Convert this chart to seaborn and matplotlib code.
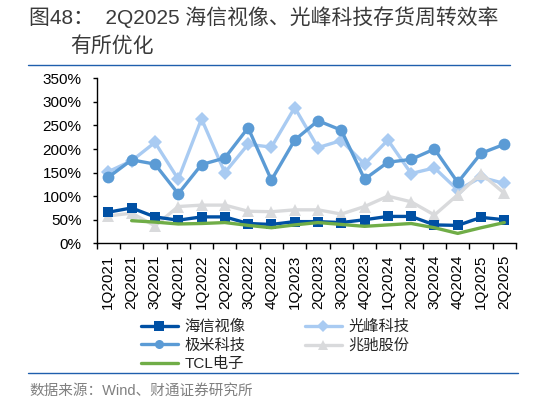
import numpy as np
import pandas as pd
import matplotlib
matplotlib.use("Agg")
import matplotlib.pyplot as plt
import seaborn as sns
from matplotlib.ticker import FixedLocator, PercentFormatter
from matplotlib.lines import Line2D

quarters = ["1Q2021", "2Q2021", "3Q2021", "4Q2021", "1Q2022", "2Q2022", "3Q2022", "4Q2022",
            "1Q2023", "2Q2023", "3Q2023", "4Q2023", "1Q2024", "2Q2024", "3Q2024", "4Q2024",
            "1Q2025", "2Q2025"]
hisense = [66, 75, 56, 49, 56, 56, 42, 40, 46, 46, 44, 50, 57, 57, 39, 38, 55, 50]
xgimi = [140, 177, 168, 105, 167, 181, 245, 134, 219, 260, 240, 136, 172, 178, 200, 129, 191, 210]
tcl = [np.nan, 48, 45, 41, 42, 44, 38, 33, 39, 44, 40, 36, 39, 42, 33, 21, 33, 44]
appotronics = [152, 175, 214, 136, 264, 150, 210, 204, 288, 203, 218, 168, 219, 148, 160, 113, 140, 127]
mtc = [58, 64, 37, 78, 81, 81, 68, 67, 71, 71, 62, 78, 100, 88, 60, 103, 148, 106]

names = ["海信视像", "极米科技", "TCL电子", "光峰科技", "兆驰股份"]
values = [hisense, xgimi, tcl, appotronics, mtc]

sns.set_style("white")
plt.rcParams['font.family'] = ['Liberation Sans', 'Noto Sans CJK SC']
plt.rcParams['axes.unicode_minus'] = False

df = pd.DataFrame({"x": np.tile(np.arange(len(quarters)), len(names)),
                   "series": np.repeat(names, len(quarters)),
                   "value": np.concatenate([np.array(v, dtype=float) for v in values])})

fig = plt.figure(figsize=(5.33, 4.03), dpi=100)
ax = fig.add_axes([96.7/533, 1-243.3/403, (516-96.7)/533, (243.3-78.3)/403])

styles = {
    "光峰科技": dict(color="#A9CBF2", marker="D", markersize=7.5, z=2),
    "极米科技": dict(color="#5B9BD5", marker="o", markersize=8.5, z=3),
    "兆驰股份": dict(color="#D9DADC", marker="^", markersize=8.5, z=4),
    "海信视像": dict(color="#0050A4", marker="s", markersize=7.5, z=5),
    "TCL电子": dict(color="#70AD47", marker=None, markersize=0, z=6),
}
for name in ["光峰科技", "极米科技", "兆驰股份", "海信视像", "TCL电子"]:
    st = styles[name]
    sub = df[df.series == name].dropna()
    sns.lineplot(data=sub, x="x", y="value", ax=ax, color=st["color"],
                 marker=st["marker"], markersize=st["markersize"],
                 markeredgewidth=0, linewidth=2.4, label=name, zorder=st["z"],
                 legend=False)

ax.set_xlim(-0.5, len(quarters) - 0.5)
ax.set_ylim(0, 350)
ax.yaxis.set_major_locator(FixedLocator(np.arange(0, 351, 50)))
ax.yaxis.set_major_formatter(PercentFormatter(decimals=0))
ax.set_xticks(np.arange(len(quarters)))
ax.set_xticklabels(quarters, rotation=90)
ax.xaxis.set_minor_locator(FixedLocator(np.arange(-0.5, len(quarters), 1)))
ax.tick_params(axis="x", which="major", length=0, pad=8, labelsize=11, colors="black")
ax.tick_params(axis="x", which="minor", length=4, width=1, color="black", direction="out", bottom=True)
ax.tick_params(axis="y", which="major", length=3, width=1, pad=8, labelsize=11,
               color="black", direction="out", left=True, labelcolor="black")
ax.set_xlabel("")
ax.set_ylabel("")
for s in ["top", "right"]:
    ax.spines[s].set_visible(False)
for s in ["left", "bottom"]:
    ax.spines[s].set_color("black")
    ax.spines[s].set_linewidth(1)
ax.grid(False)

order = ["海信视像", "极米科技", "TCL电子", "光峰科技", "兆驰股份"]
leg_handles = [Line2D([], [], color=styles[n]["color"], marker=styles[n]["marker"],
                      markersize=6.5, markeredgewidth=0, linewidth=2.4) for n in order]
fig.legend(leg_handles, order, loc="upper left", bbox_to_anchor=(141/533, 1-320/403),
           ncol=2, frameon=False, fontsize=11, handlelength=2.4, handletextpad=0.45,
           columnspacing=3.9, labelspacing=0.3, borderpad=0, borderaxespad=0)

title_kw = dict(fontsize=15, color="#3A3A3A", fontweight="normal", va="center", ha="left")
fig.text(29/533, 1-17/403, "图48：  2Q2025 海信视像、光峰科技存货周转效率", **title_kw)
fig.text(70/533, 1-46/403, "有所优化", **title_kw)

fig.add_artist(Line2D([28/533, 510/533], [1-64.5/403, 1-64.5/403], color="#1F5FAD", linewidth=1))
fig.add_artist(Line2D([28/533, 518/533], [1-373/403, 1-373/403], color="#1F5FAD", linewidth=1))
fig.text(29/533, 1-391/403, "数据来源：Wind、财通证券研究所", fontsize=10.5, color="#808080",
         va="center", ha="left")

fig.savefig("out.png", dpi=100)
